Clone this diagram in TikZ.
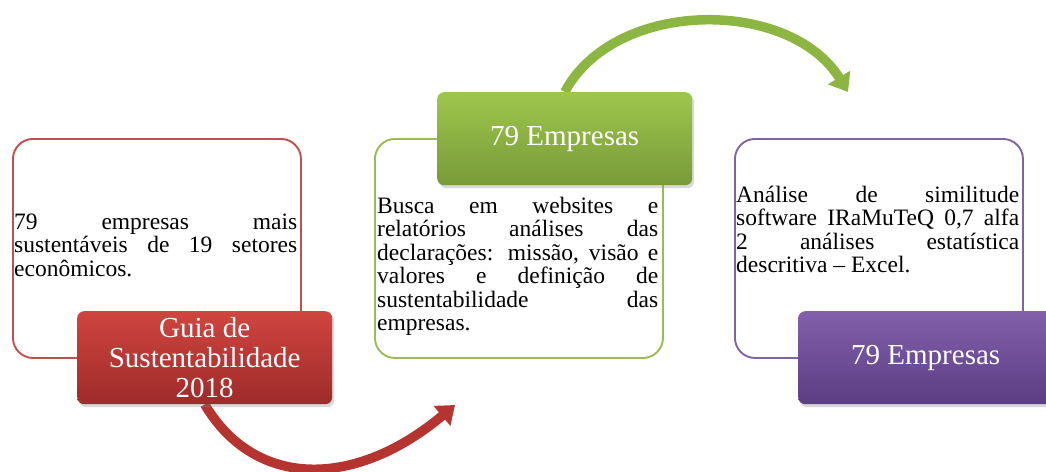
\documentclass[tikz,border=0pt]{standalone}
\usepackage{fontspec}
\setmainfont{Liberation Serif}
\usetikzlibrary{shadows,arrows.meta,backgrounds}
\definecolor{redline}{HTML}{C0504D}
\definecolor{greenline}{HTML}{9BBB59}
\definecolor{purpleline}{HTML}{8064A2}
\definecolor{redtop}{HTML}{D0453F}
\definecolor{redbottom}{HTML}{9E2B2A}
\definecolor{greentop}{HTML}{9EC64C}
\definecolor{greenbottom}{HTML}{789A38}
\definecolor{purpletop}{HTML}{8260AA}
\definecolor{purplebottom}{HTML}{5C3E84}
\definecolor{redarrow}{HTML}{B5342F}
\definecolor{greenarrow}{HTML}{8CB542}
\hyphenpenalty=10000
\tolerance=10000
\hbadness=10000

\begin{document}
\begin{tikzpicture}[x=1pt,y=-1pt,
outbox/.style={draw,fill=white,line width=1.9pt,rounded corners=20pt,
    minimum width=288pt,minimum height=219pt,anchor=north west},
headbox/.style={rounded corners=7pt,minimum width=255pt,minimum height=93pt,
    anchor=north west,text=white,align=center,font=\fontsize{29}{30}\selectfont,
    drop shadow={opacity=0.3,shadow xshift=2pt,shadow yshift=-3pt}},
textblock/.style={text width=283pt,align=justify,inner sep=0pt,anchor=base west,
    font=\fontsize{23.5}{23.5}\selectfont},
flowarrow/.style={line width=9.5pt,-{Triangle[width=25pt,length=17pt]}}]
\useasboundingbox (0,0) rectangle (1046,471);

% frames with the descriptions
\node (guiabox) [outbox,draw=redline] at (12,138) {};
\node (buscabox) [outbox,draw=greenline] at (374,138) {};
\node (analisebox) [outbox,draw=purpleline] at (734,138) {};

\node (guiatext) [textblock] at (14,229)
    {79 empresas mais\linebreak sustentáveis de 19 setores\linebreak econômicos.};
\node (buscatext) [textblock,text width=281pt] at (377,213)
    {Busca em websites e\linebreak relatórios análises das\linebreak
    declarações: missão, visão e\linebreak valores e definição de\linebreak
    sustentabilidade das\linebreak empresas.};
\node (analisetext) [textblock] at (736,202)
    {Análise de similitude\linebreak software IRaMuTeQ 0,7 alfa\linebreak
    2 análises estatística\linebreak descritiva – Excel.};

% coloured headers
\node (guiahead) [headbox,top color=redtop,bottom color=redbottom] at (77,311)
    {Guia de\\Sustentabilidade\\2018};
\node (buscahead) [headbox,top color=greentop,bottom color=greenbottom] at (437,92)
    {79 Empresas};
\node (analisehead) [headbox,top color=purpletop,bottom color=purplebottom] at (798,311)
    {79 Empresas};

\coordinate (redtip) at (455,405);
\coordinate (greentip) at (848,92);
\begin{scope}[on background layer]
\draw [flowarrow,redarrow] (guiahead.south) .. controls (255,489) and (355,489) .. (redtip);
\draw [flowarrow,greenarrow] (buscahead.north) .. controls (615,-2) and (790,-2) .. (greentip);
\end{scope}
\end{tikzpicture}
\end{document}
